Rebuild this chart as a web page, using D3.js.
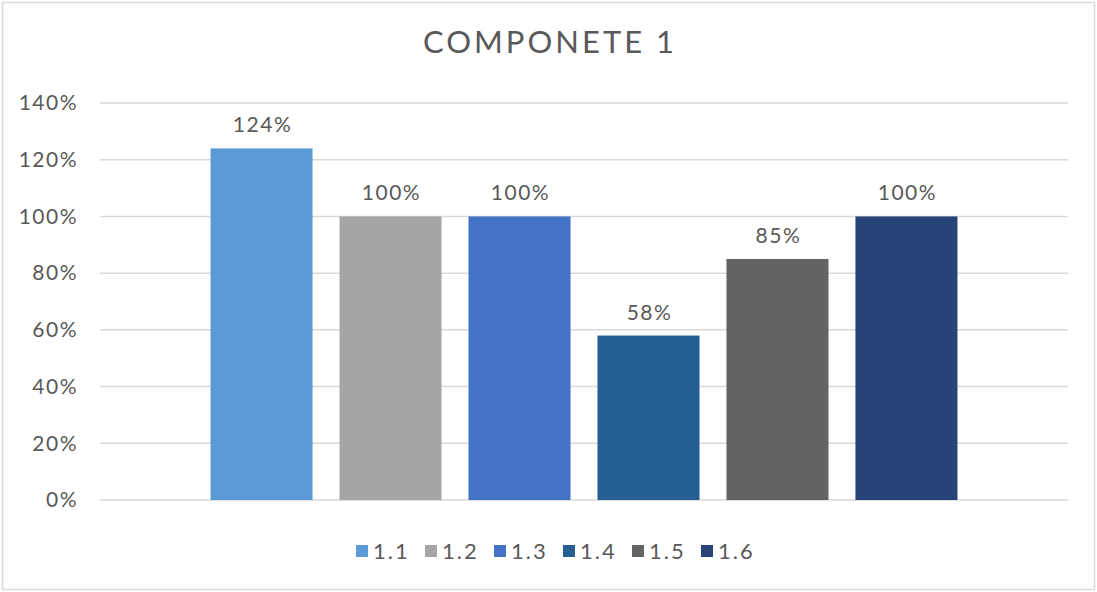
<!DOCTYPE html>
<html>
<head>
<meta charset="utf-8">
<script src="https://cdn.jsdelivr.net/npm/d3@7"></script>
<style>
  body { margin: 0; background: #ffffff; }
  text { font-family: "Century Gothic", "Lato", "DejaVu Sans", sans-serif; fill: #595959; }
</style>
</head>
<body>
<div id="chart"></div>
<script>
const seriesNames = ["1.1", "1.2", "1.3", "1.4", "1.5", "1.6"];
const seriesValues = [1.24, 1.00, 1.00, 0.58, 0.85, 1.00];
const seriesColors = ["#5B9BD5", "#A5A5A5", "#4472C4", "#255E91", "#636363", "#264478"];
const yTicks = [0, 0.2, 0.4, 0.6, 0.8, 1.0, 1.2, 1.4];
const chartTitle = "COMPONETE 1";

const width = 1097;
const height = 592;

const margin = {
  top: 103,
  right: 29,
  bottom: 92,
  left: 100
};

const innerWidth = width - margin.left - margin.right;
const innerHeight = height - margin.top - margin.bottom;

const svg = d3.select("#chart")
  .append("svg")
  .attr("width", width)
  .attr("height", height);

// outer frame
svg.append("rect")
  .attr("x", 2.5)
  .attr("y", 2.5)
  .attr("width", width - 5)
  .attr("height", height - 5)
  .attr("fill", "#ffffff")
  .attr("stroke", "#d9d9d9")
  .attr("stroke-width", 1.5);

svg.append("text")
  .attr("x", width / 2 + 1.5)
  .attr("y", 53)
  .attr("text-anchor", "middle")
  .attr("font-size", "31px")
  .attr("letter-spacing", "3px")
  .text(chartTitle);

const chart = svg.append("g")
  .attr("transform", `translate(${margin.left}, ${margin.top})`);

const x = d3.scaleBand()
  .domain(seriesNames)
  .range([0, innerWidth])
  .paddingInner(0.209)
  .paddingOuter(0.857);

const y = d3.scaleLinear()
  .domain([0, 1.4])
  .range([innerHeight, 0]);

// gridlines
chart.append("g")
  .selectAll("line")
  .data(yTicks)
  .enter()
  .append("line")
  .attr("x1", 0)
  .attr("x2", innerWidth)
  .attr("y1", d => y(d))
  .attr("y2", d => y(d))
  .attr("stroke", "#d9d9d9")
  .attr("stroke-width", 1.5);

const yAxis = chart.append("g")
  .call(d3.axisLeft(y)
    .tickValues(yTicks)
    .tickSize(0)
    .tickPadding(22)
    .tickFormat(d3.format(".0%")));

yAxis.select(".domain").remove();
yAxis.selectAll("text")
  .attr("font-size", "21px")
  .attr("letter-spacing", "1.5px")
  .attr("fill", "#595959");

chart.selectAll(".bar")
  .data(seriesNames)
  .enter()
  .append("rect")
  .attr("class", "bar")
  .attr("x", d => x(d))
  .attr("y", (d, i) => y(seriesValues[i]))
  .attr("width", x.bandwidth())
  .attr("height", (d, i) => innerHeight - y(seriesValues[i]))
  .attr("fill", (d, i) => seriesColors[i]);

chart.selectAll(".bar-label")
  .data(seriesNames)
  .enter()
  .append("text")
  .attr("class", "bar-label")
  .attr("x", d => x(d) + x.bandwidth() / 2 + 1)
  .attr("y", (d, i) => y(seriesValues[i]) - 16)
  .attr("text-anchor", "middle")
  .attr("font-size", "21px")
  .attr("letter-spacing", "1.5px")
  .text((d, i) => d3.format(".0%")(seriesValues[i]));

// legend
const legendStep = 69;
const legendX = 356;
const legendY = 551;

const legend = svg.append("g")
  .selectAll("g")
  .data(seriesNames)
  .enter()
  .append("g")
  .attr("transform", (d, i) => `translate(${legendX + i * legendStep}, ${legendY})`);

legend.append("rect")
  .attr("x", 0)
  .attr("y", -6)
  .attr("width", 12)
  .attr("height", 12)
  .attr("fill", (d, i) => seriesColors[i]);

legend.append("text")
  .attr("x", 17)
  .attr("y", 8)
  .attr("font-size", "22px")
  .attr("letter-spacing", "2px")
  .text(d => d);
</script>
</body>
</html>
